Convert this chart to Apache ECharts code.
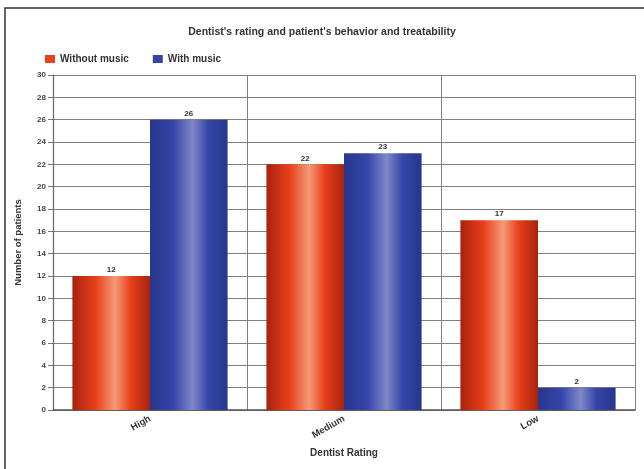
<!DOCTYPE html>
<html>
<head>
<meta charset="utf-8">
<script src="https://cdn.jsdelivr.net/npm/echarts@6/dist/echarts.min.js"></script>
<style>
  html, body { margin: 0; padding: 0; background: #fff; }
  #chart { width: 644px; height: 469px; }
</style>
</head>
<body>
<div id="chart"></div>
<script>
// Dentist's rating vs. number of patients, with and without music
const categories = ['High', 'Medium', 'Low'];
const withoutMusic = [12, 22, 17];
const withMusic = [26, 23, 2];
const yTicks = { min: 0, max: 30, step: 2 };

const font = 'Liberation Sans, Arial, sans-serif';
const red = '#e8401a';
const blue = '#3545a8';

// Cylinder-like horizontal shading for the bars
function shade(edge, body, light) {
  return {
    type: 'linear', x: 0, y: 0, x2: 1, y2: 0,
    colorStops: [
      { offset: 0, color: edge },
      { offset: 0.3, color: body },
      { offset: 0.55, color: light },
      { offset: 0.75, color: body },
      { offset: 1, color: edge }
    ]
  };
}

const chart = echarts.init(document.getElementById('chart'));
chart.setOption({
  backgroundColor: '#fff',
  animation: false,
  title: {
    text: "Dentist's rating and patient's behavior and treatability",
    left: 'center',
    top: 22,
    textStyle: { fontFamily: font, fontSize: 10.5, fontWeight: 'bold', color: '#333' }
  },
  legend: {
    left: 40,
    top: 49,
    icon: 'rect',
    itemWidth: 10,
    itemHeight: 8,
    itemGap: 24,
    textStyle: { fontFamily: font, fontSize: 10, fontWeight: 'bold', color: '#333' },
    data: [
      { name: 'Without music', itemStyle: { color: red } },
      { name: 'With music', itemStyle: { color: blue } }
    ]
  },
  graphic: [{
    type: 'rect',
    shape: { x: 5, y: 8, width: 800, height: 600 },
    style: { fill: 'none', stroke: '#333', lineWidth: 1.5 },
    silent: true
  }],
  grid: { left: 53, right: 9, top: 75, bottom: 59 },
  xAxis: {
    type: 'category',
    data: categories,
    name: 'Dentist Rating',
    nameLocation: 'middle',
    nameGap: 38,
    nameTextStyle: { fontFamily: font, fontSize: 10, fontWeight: 'bold', color: '#333' },
    axisLine: { lineStyle: { color: '#555', width: 1.5 } },
    axisTick: { show: false },
    axisLabel: { rotate: 30, fontFamily: font, fontSize: 9.5, fontWeight: 'bold', color: '#333', margin: 8 },
    splitLine: { show: true, lineStyle: { color: '#808080', width: 1 } }
  },
  yAxis: {
    type: 'value',
    min: yTicks.min,
    max: yTicks.max,
    interval: yTicks.step,
    name: 'Number of patients',
    nameLocation: 'middle',
    nameGap: 30,
    nameTextStyle: { fontFamily: font, fontSize: 9.5, fontWeight: 'bold', color: '#333' },
    axisLine: { show: true, lineStyle: { color: '#666', width: 1.2 } },
    axisTick: { show: true, length: 5, lineStyle: { color: '#777' } },
    axisLabel: { fontFamily: font, fontSize: 8, fontWeight: 'bold', color: '#444', margin: 7 },
    splitLine: { show: true, lineStyle: { color: '#808080', width: 1 } }
  },
  series: [
    {
      name: 'Without music',
      type: 'bar',
      data: withoutMusic,
      barGap: '0%',
      barCategoryGap: '20%',
      itemStyle: { color: shade('#a8220e', red, '#f59a78') },
      label: { show: true, position: 'top', distance: 2, fontFamily: font, fontSize: 8, fontWeight: 'bold', color: '#333' }
    },
    {
      name: 'With music',
      type: 'bar',
      data: withMusic,
      itemStyle: { color: shade('#27378c', blue, '#8088c8') },
      label: { show: true, position: 'top', distance: 2, fontFamily: font, fontSize: 8, fontWeight: 'bold', color: '#333' }
    }
  ]
});
</script>
</body>
</html>
